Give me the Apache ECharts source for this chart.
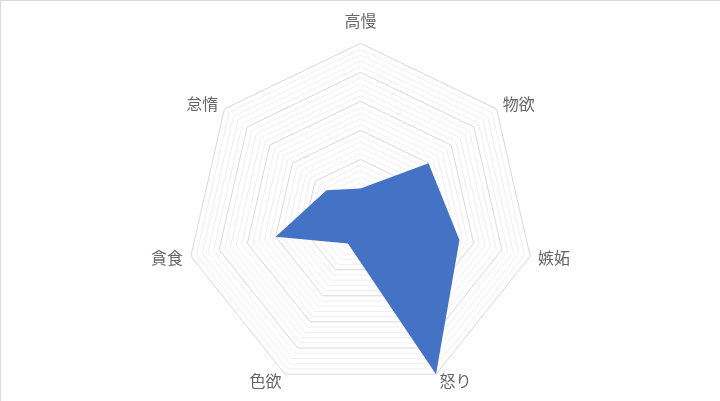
<!DOCTYPE html>
<html><head><meta charset="utf-8">
<script src="https://cdn.jsdelivr.net/npm/echarts@6/dist/echarts.min.js"></script>
<style>
html,body{margin:0;padding:0;background:#fff;}
#c{width:720px;height:401px;box-sizing:border-box;border-top:1px solid #d9d9d9;border-left:1px solid #d9d9d9;}
</style></head>
<body><div id="c"></div>
<script>
// clockwise order starting at top
const categories = ['高慢','物欲','嫉妬','怒り','色欲','貪食','怠惰'];
const values = [5, 15, 17.5, 30, 5, 15, 7.5];
const axisMax = 30;
const splitCount = 30;

// ECharts radar runs counter-clockwise: keep first, reverse the rest
const order = [0].concat(categories.map((_, i) => i).slice(1).reverse());
const cats = order.map(i => categories[i]);
const vals = order.map(i => values[i]);

const chart = echarts.init(document.getElementById('c'), null, {renderer:'canvas'});
chart.setOption({
  animation:false,
  radar:{
    center:['50%', 216.4],
    radius:174,
    startAngle:90,
    splitNumber:splitCount,
    shape:'polygon',
    indicator: cats.map(n=>({name:n, max:axisMax, min:0})),
    axisName:{
      color:'#666666', fontSize:16, fontFamily:'"Noto Sans CJK JP", sans-serif',
      formatter:(name)=> name===categories[0] ? '{t|'+name+'}' : name,
      rich:{t:{fontSize:16, color:'#666666', fontFamily:'"Noto Sans CJK JP", sans-serif', padding:[0,0,6,0]}}
    },
    nameGap:8,
    axisLine:{show:false},
    axisTick:{show:false},
    axisLabel:{show:false},
    splitArea:{show:false},
    splitLine:{lineStyle:{color:['#d9d9d9','#efefef','#efefef','#efefef','#efefef'], width:1}}
  },
  series:[{
    type:'radar',
    symbol:'none',
    lineStyle:{width:0, color:'#4472C4'},
    areaStyle:{color:'#4472C4', opacity:1},
    data:[{value:vals}]
  }]
});
</script></body></html>
